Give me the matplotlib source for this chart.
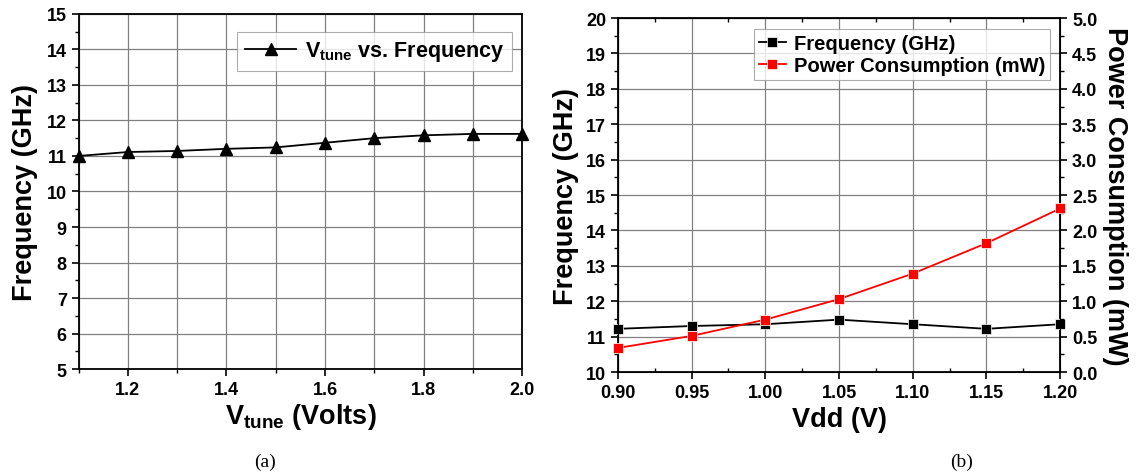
import numpy as np
import matplotlib
matplotlib.use("Agg")
import matplotlib.pyplot as plt
from matplotlib.ticker import MultipleLocator, FormatStrFormatter

plt.rcParams['font.family'] = 'Liberation Sans'
plt.rcParams['font.weight'] = 'bold'
plt.rcParams['mathtext.fontset'] = 'custom'
plt.rcParams['mathtext.rm'] = 'Liberation Sans'
plt.rcParams['mathtext.bf'] = 'Liberation Sans:bold'

# (a) tuning voltage sweep
vtune = [1.1, 1.2, 1.3, 1.4, 1.5, 1.6, 1.7, 1.8, 1.9, 2.0]
freq_a = [11.0, 11.11, 11.14, 11.2, 11.24, 11.37, 11.5, 11.58, 11.62, 11.62]

# (b) supply voltage sweep
vdd = [0.90, 0.95, 1.00, 1.05, 1.10, 1.15, 1.20]
freq_b = [11.22, 11.3, 11.35, 11.48, 11.35, 11.22, 11.35]
power_b = [0.34, 0.51, 0.74, 1.03, 1.39, 1.82, 2.31]

grid_kw = dict(color='#808080', linewidth=0.9)
tick_fs = 13
label_fs = 19.5

fig = plt.figure(figsize=(11.4, 4.77), dpi=100)

# ---------- panel (a) ----------
ax1 = fig.add_axes([0.069, 0.224, 0.389, 0.745])
ax1.plot(vtune, freq_a, color='black', linewidth=1.3, marker='^', markersize=9,
         label=r'$\mathbf{V_{tune}}$ vs. Frequency', clip_on=False, zorder=3)
ax1.set_xlim(1.1, 2.0)
ax1.set_ylim(5, 15)
ax1.xaxis.set_minor_locator(MultipleLocator(0.1))
ax1.yaxis.set_major_locator(MultipleLocator(1))
ax1.yaxis.set_minor_locator(MultipleLocator(0.5))
ax1.set_xticks([1.2, 1.4, 1.6, 1.8, 2.0])
ax1.xaxis.set_major_formatter(FormatStrFormatter('%.1f'))
ax1.grid(True, which='major', **grid_kw)
ax1.grid(True, which='minor', axis='x', **grid_kw)
ax1.tick_params(which='major', direction='out', length=5, width=1.2, labelsize=tick_fs)
ax1.tick_params(which='minor', direction='out', length=3, width=1.0)
for lab in ax1.get_xticklabels() + ax1.get_yticklabels():
    lab.set_fontweight('bold')
for s in ax1.spines.values():
    s.set_linewidth(1.3)
ax1.set_ylabel('Frequency (GHz)', fontsize=label_fs, fontweight='bold', labelpad=6)
ax1.set_xlabel(r'$\mathbf{V}_{\mathbf{tune}}$ (Volts)', fontsize=label_fs, fontweight='bold', labelpad=2)
leg1 = ax1.legend(loc='upper right', bbox_to_anchor=(0.977, 0.949), borderaxespad=0,
                  fontsize=15.5, frameon=True, fancybox=False, edgecolor='#999999',
                  handlelength=2.4, borderpad=0.35, handletextpad=0.4)
leg1.get_frame().set_linewidth(0.8)

# ---------- panel (b) ----------
ax2 = fig.add_axes([0.542, 0.218, 0.388, 0.742])
l1, = ax2.plot(vdd, freq_b, color='black', linewidth=1.3, marker='s', markersize=6.5,
               markeredgecolor='white', markeredgewidth=0.5, clip_on=False, zorder=3,
               label='Frequency (GHz)')
ax2.set_xlim(0.9, 1.2)
ax2.set_ylim(10, 20)
ax2.xaxis.set_major_locator(MultipleLocator(0.05))
ax2.xaxis.set_minor_locator(MultipleLocator(0.025))
ax2.yaxis.set_major_locator(MultipleLocator(1))
ax2.yaxis.set_minor_locator(MultipleLocator(0.5))
ax2.xaxis.set_major_formatter(FormatStrFormatter('%.2f'))
ax2.grid(True, which='major', **grid_kw)
ax2.tick_params(which='major', direction='out', length=5, width=1.2, labelsize=tick_fs)
ax2.tick_params(axis='x', which='minor', direction='in', length=3, width=1.0, top=True)
ax2.tick_params(axis='y', which='minor', direction='out', length=3, width=1.0)
for s in ax2.spines.values():
    s.set_linewidth(1.3)
ax2.set_ylabel('Frequency (GHz)', fontsize=label_fs, fontweight='bold', labelpad=5)
ax2.set_xlabel('Vdd (V)', fontsize=label_fs, fontweight='bold', labelpad=4)

ax3 = ax2.twinx()
l2, = ax3.plot(vdd, power_b, color='#ff0000', linewidth=1.3, marker='s', markersize=7.5,
               markeredgecolor='white', markeredgewidth=0.5, clip_on=False, zorder=3,
               label='Power Consumption (mW)')
ax3.set_ylim(0, 5)
ax3.yaxis.set_major_locator(MultipleLocator(0.5))
ax3.yaxis.set_minor_locator(MultipleLocator(0.25))
ax3.yaxis.set_major_formatter(FormatStrFormatter('%.1f'))
ax3.tick_params(which='major', direction='out', length=5, width=1.2, labelsize=tick_fs)
ax3.tick_params(which='minor', direction='out', length=3, width=1.0)
ax3.set_ylabel('Power Consumption (mW)', fontsize=label_fs, fontweight='bold',
               rotation=270, labelpad=22)
for a in (ax2, ax3):
    for lab in a.get_xticklabels() + a.get_yticklabels():
        lab.set_fontweight('bold')

leg2 = ax3.legend(handles=[l1, l2], loc='upper right', bbox_to_anchor=(0.977, 0.969),
                  borderaxespad=0, fontsize=14.5, frameon=True, fancybox=False,
                  edgecolor='#999999', handlelength=1.3, borderpad=0.25,
                  labelspacing=0.15, handletextpad=0.4)
leg2.get_frame().set_linewidth(0.8)

# captions
fig.text(265 / 1140, 1 - 462 / 477, '(a)', family='Liberation Serif', fontweight='normal',
         fontsize=14, ha='center', va='center')
fig.text(962 / 1140, 1 - 462 / 477, '(b)', family='Liberation Serif', fontweight='normal',
         fontsize=14, ha='center', va='center')

fig.savefig('out.png', dpi=100)
